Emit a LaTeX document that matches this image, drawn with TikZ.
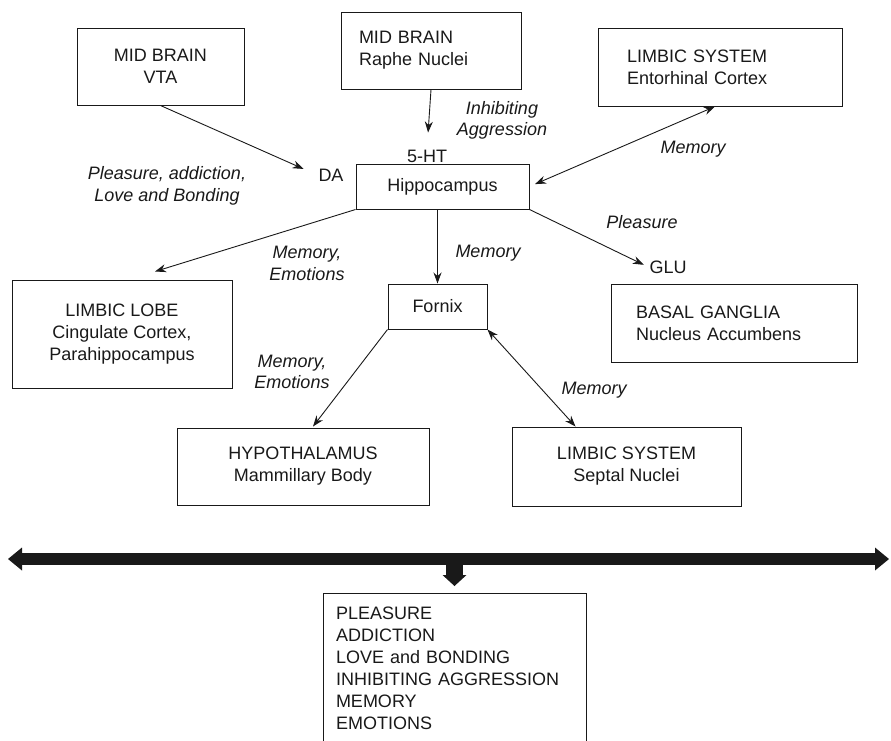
\documentclass[tikz,border=0pt]{standalone}
\usepackage{fontspec}
\setmainfont{Liberation Sans}
\usetikzlibrary{arrows.meta}

\begin{document}
\begin{tikzpicture}[x=1pt,y=-1pt,color=black!90,
  font=\fontsize{18}{22}\selectfont,
  box/.style={draw,line width=1pt,inner sep=0pt,align=center},
  lbox/.style={draw,line width=1pt,inner sep=0pt,align=left},
  tag/.style={inner sep=1pt},
  note/.style={font=\fontsize{18}{21.5}\selectfont\itshape,align=center,inner sep=0pt},
  link/.style={line width=0.9pt,-{Stealth[length=11pt,width=8pt]}},
  both/.style={line width=0.9pt,{Stealth[length=11pt,width=8pt]}-{Stealth[length=11pt,width=8pt]}},
  bar/.style={line width=12pt,{Triangle[length=14pt,width=23pt,line width=0pt]}-{Triangle[length=14pt,width=23pt,line width=0pt]}}]
  \useasboundingbox (0,0) rectangle (891,740);
  \clip (0,0) rectangle (891,740);
  % boxes
  \node[box,minimum width=167pt,minimum height=77pt] (vta) at (160.5,66.5) {MID BRAIN\\VTA};
  \node[lbox,text width=144pt,inner xsep=18pt,minimum height=77pt] (raphe) at (431,50.5) {MID BRAIN\\Raphe Nuclei};
  \node[lbox,text width=186pt,inner xsep=29pt,minimum height=78pt] (ento) at (720,67) {LIMBIC SYSTEM\\Entorhinal Cortex};
  \node[box,minimum width=173pt,minimum height=45pt] (hippo) at (442.5,186.5) {Hippocampus};
  \node[box,minimum width=220pt,minimum height=108pt] (lobe) at (122,334) {LIMBIC LOBE\\Cingulate Cortex,\\Parahippocampus};
  \node[box,minimum width=99pt,minimum height=45pt] (fornix) at (437.5,306.5) {Fornix};
  \node[lbox,text width=196pt,inner xsep=25pt,minimum height=78pt] (basal) at (734,323) {BASAL GANGLIA\\Nucleus Accumbens};
  \node[box,minimum width=252pt,minimum height=77pt] (hypo) at (303,466.5) {HYPOTHALAMUS\\Mammillary Body};
  \node[box,minimum width=229pt,minimum height=79pt] (septal) at (626.5,466.5) {LIMBIC SYSTEM\\Septal Nuclei};
  \node[lbox,anchor=north,text width=237pt,inner xsep=13pt,inner ysep=13pt] (effects) at (454.5,593)
    {PLEASURE\\ADDICTION\\LOVE and BONDING\\INHIBITING AGGRESSION\\MEMORY\\EMOTIONS};
  % transmitters
  \node[tag] (da) at (331,175) {DA};
  \node[tag] (ht) at (427,156) {5-HT};
  \node[tag] (glu) at (668,267) {GLU};
  % italic labels
  \node[note] (nvta) at (167,186) {Pleasure, addiction,\\Love and Bonding};
  \node[note] (nraphe) at (502,120.5) {Inhibiting\\Aggression};
  \node[note] (nento) at (693,149) {Memory};
  \node[note] (nlobe) at (307,263.5) {Memory,\\Emotions};
  \node[note] (nfornix) at (488,253) {Memory};
  \node[note] (nglu) at (642,222) {Pleasure};
  \node[note] (nhypo) at (292,372) {Memory,\\Emotions};
  \node[note] (nseptal) at (594,390) {Memory};
  % connectors
  \draw[link,shorten >=15pt] (vta.south) -- (da.west);
  \draw[link,shorten >=16pt] (raphe.south) -- (ht.north);
  \draw[both,shorten <=6pt] (hippo.east) -- ([xshift=-5pt]ento.south);
  \draw[link] (hippo.south west) -- ([shift={(33,-8)}]lobe.north);
  \draw[link] (hippo.south -| fornix.north) -- (fornix.north);
  \draw[link,shorten >=5pt] (hippo.south east) -- (glu.west);
  \draw[link] (fornix.south west) -- ([shift={(10,-1)}]hypo.north);
  \draw[both] (fornix.south east) -- ([shift={(-51,0)}]septal.north);
  % common outcome bar
  \coordinate (barl) at (8,559);
  \coordinate (barr) at (889,559);
  \draw[bar] (barl) -- (barr);
  \draw[line width=17pt,-{Triangle[length=11pt,width=24pt,line width=0pt]}] (barl -| effects.north) -- ([yshift=7pt]effects.north);
\end{tikzpicture}
\end{document}
